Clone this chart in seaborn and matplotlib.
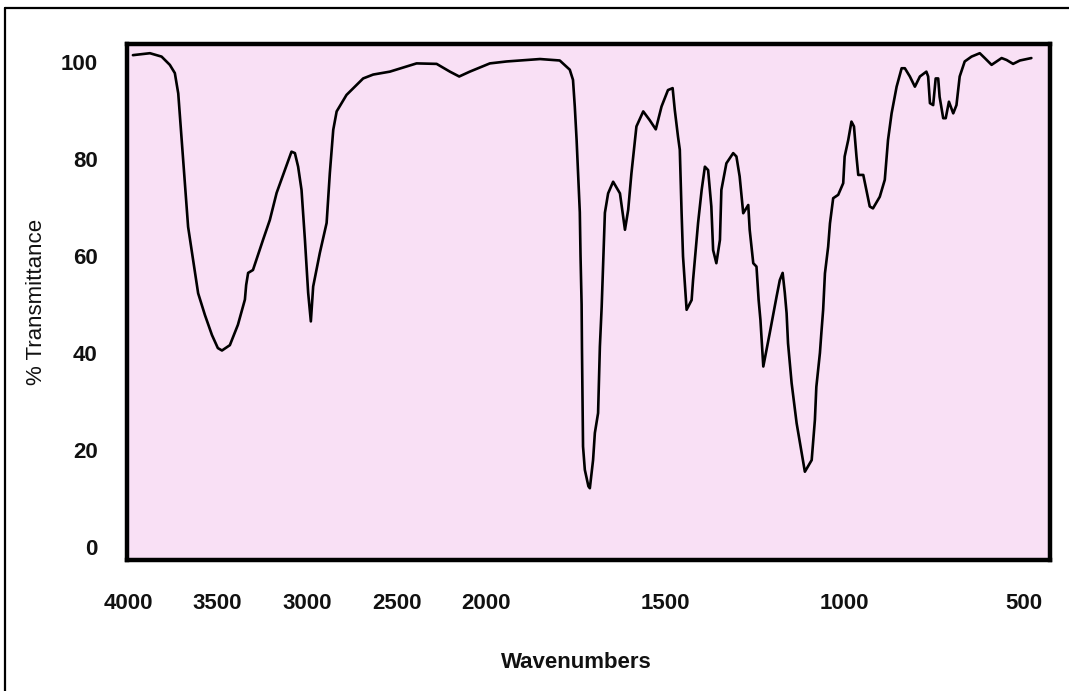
import numpy as np
import pandas as pd
import matplotlib
matplotlib.use("Agg")
import matplotlib.pyplot as plt
from matplotlib.lines import Line2D
import seaborn as sns

# ---- data ----
wavenumber = [
    3972, 3877, 3812, 3766, 3738, 3719, 3700, 3682, 3664, 3636, 3608, 3570,
    3531, 3498, 3475, 3431, 3386, 3347, 3340, 3329, 3302, 3246, 3208, 3170,
    3124, 3087, 3068, 3050, 3031, 3012, 2994, 2979, 2966, 2929, 2891, 2873,
    2854, 2835, 2780, 2687, 2631, 2538, 2389, 2277, 2203, 2151, 2092, 1990,
    1943, 1850, 1795, 1767, 1758, 1753, 1748, 1739, 1737, 1734, 1733, 1730,
    1725, 1715, 1711, 1702, 1697, 1688, 1683, 1678, 1675, 1669, 1660, 1646,
    1627, 1613, 1604, 1595, 1581, 1562, 1544, 1527, 1511, 1493, 1480, 1474,
    1465, 1460, 1455, 1451, 1443, 1441, 1427, 1423, 1409, 1399, 1390, 1381,
    1372, 1367, 1358, 1348, 1344, 1330, 1311, 1302, 1293, 1283, 1269, 1265,
    1255, 1246, 1240, 1235, 1227, 1209, 1190, 1181, 1173, 1167, 1162, 1158,
    1148, 1134, 1111, 1092, 1083, 1079, 1069, 1065, 1060, 1055, 1046, 1041,
    1032, 1018, 1004, 1000, 990, 981, 974, 967, 962, 948, 930, 921,
    902, 888, 879, 869, 855, 841, 832, 818, 804, 790, 772, 767,
    762, 753, 746, 739, 735, 725, 718, 709, 697, 688, 679, 665,
    646, 623, 609, 590, 576, 562, 548, 530, 511, 479,
]
transmittance = [
    101.4, 101.8, 101.1, 99.4, 97.7, 93.5, 83.9, 75.0, 66.0, 59.2, 52.3, 47.8,
    43.7, 41.0, 40.5, 41.6, 45.8, 51.0, 54.0, 56.5, 57.1, 63.3, 67.4, 73.0,
    77.7, 81.5, 81.2, 78.4, 73.6, 63.3, 52.4, 46.5, 53.7, 60.6, 66.8, 77.1,
    86.0, 89.8, 93.2, 96.6, 97.4, 98.0, 99.7, 99.6, 98.0, 97.0, 98.0, 99.7,
    100.1, 100.6, 100.3, 98.4, 96.3, 90.8, 84.0, 69.0, 60.0, 50.0, 41.0, 20.7,
    15.9, 12.5, 12.1, 17.9, 23.5, 27.6, 41.3, 49.5, 56.0, 68.9, 72.9, 75.3,
    72.9, 65.4, 69.5, 77.0, 86.7, 89.8, 88.0, 86.1, 90.8, 94.2, 94.6, 90.1,
    84.6, 81.9, 68.9, 59.9, 50.9, 48.9, 50.9, 55.0, 66.8, 73.6, 78.4, 77.7,
    70.2, 61.2, 58.5, 63.3, 73.6, 79.1, 81.2, 80.5, 76.4, 68.8, 70.5, 65.4,
    58.5, 57.8, 50.9, 46.8, 37.2, 44.1, 51.6, 55.0, 56.5, 52.4, 48.2, 42.0,
    33.8, 25.5, 15.5, 17.9, 26.2, 33.0, 40.0, 44.1, 48.9, 56.4, 61.9, 66.7,
    71.9, 72.6, 75.0, 80.5, 83.9, 87.7, 86.7, 80.5, 76.7, 76.7, 70.2, 69.8,
    72.2, 75.7, 83.9, 89.4, 94.9, 98.7, 98.7, 97.0, 94.9, 97.0, 98.0, 97.0,
    91.5, 91.1, 96.6, 96.6, 92.8, 88.4, 88.4, 91.8, 89.4, 91.1, 97.0, 100.1,
    101.1, 101.8, 100.8, 99.4, 100.1, 100.8, 100.4, 99.6, 100.3, 100.8,
]
x_ticks = [4000, 3500, 3000, 2500, 2000, 1500, 1000, 500]
y_ticks = [0, 20, 40, 60, 80, 100]

df = pd.DataFrame({"Wavenumbers": wavenumber, "% Transmittance": transmittance})

# piecewise wavenumber scale: expanded by 2x below 2000 cm-1 (increasing map)
def fwd(w):
    w = np.asarray(w, dtype=float)
    return np.where(w >= 2000, w, 2 * w - 2000)

def inv(u):
    u = np.asarray(u, dtype=float)
    return np.where(u >= 2000, u, (u + 2000) / 2)

sns.set_theme(style="white")
plt.rcParams["font.family"] = ["Liberation Sans", "DejaVu Sans"]

fig = plt.figure(figsize=(10.69, 6.91), dpi=100)
fig.patch.set_facecolor("white")
ax = fig.add_axes([127 / 1069, 1 - 560 / 691, (1050 - 127) / 1069, (560 - 44) / 691])
ax.set_facecolor("#F9E0F5")

sns.lineplot(data=df, x="Wavenumbers", y="% Transmittance", sort=False,
             color="black", linewidth=1.9, ax=ax)

ax.set_xscale("function", functions=(fwd, inv))
ax.set_xlim(4005, 427)
ax.set_ylim(-2.7, 103.7)
ax.set_xticks(x_ticks)
ax.set_xticklabels([str(t) for t in x_ticks])
ax.set_yticks(y_ticks)
ax.set_yticklabels([str(t) for t in y_ticks])
ax.tick_params(axis="x", length=0, pad=24, labelsize=16)
ax.tick_params(axis="y", length=0, pad=21, labelsize=16)
for lab in ax.get_xticklabels() + ax.get_yticklabels():
    lab.set_fontweight("bold")
    lab.set_color("#111111")

ax.set_xlabel("Wavenumbers", fontsize=16, fontweight="bold", color="#111111")
ax.set_ylabel("% Transmittance", fontsize=16, labelpad=10, color="#111111")
ax.xaxis.set_label_coords((576 - 127) / 923, -0.178)
ax.grid(False)
for s in ax.spines.values():
    s.set_visible(True)
    s.set_color("black")
    s.set_linewidth(3.2)

# outer figure border (top and left)
fig.add_artist(Line2D([5 / 1069, 5 / 1069], [0, 1 - 8 / 691], transform=fig.transFigure,
                      color="black", linewidth=1.6))
fig.add_artist(Line2D([5 / 1069, 1], [1 - 8 / 691, 1 - 8 / 691], transform=fig.transFigure,
                      color="black", linewidth=1.6))

fig.savefig("out.png", dpi=100)
